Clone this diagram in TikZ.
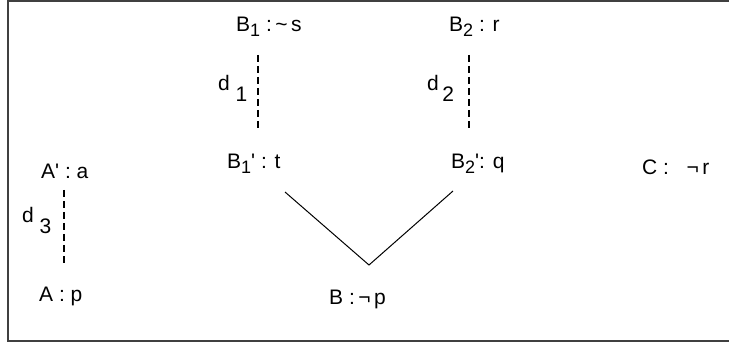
\documentclass[tikz,border=0pt]{standalone}
\usepackage{fontspec}
\setmainfont{Liberation Sans}
\newcommand\lowsub[1]{\raisebox{-5pt}{\fontsize{18}{18}\selectfont #1}}
\newcommand\dsub[1]{\raisebox{-11pt}{#1}}
\newcommand\pr{\textquotesingle}
\begin{document}
\begin{tikzpicture}[x=1pt,y=-1pt,
  lbl/.style={anchor=west,inner sep=0pt,font=\fontsize{21}{21}\selectfont},
  dline/.style={line width=1.3pt,dash pattern=on 7pt off 4pt},
  sline/.style={line width=1pt},
  frame/.style={line width=1.6pt,draw=black!75}]
\useasboundingbox (0,0) rectangle (729,342);
\draw[frame] (729,0.8) -- (8,0.8) -- (8,340.8) -- (729,340.8);
% nodes
\node[lbl] (b1) at (236,27) {B\lowsub{1} :\,\textasciitilde\,s};
\node[lbl] (b2) at (449,27) {B\lowsub{2} : r};
\node[lbl] (b1p) at (227,164) {B\lowsub{1}\pr\ : t};
\node[lbl] (b2p) at (451,164) {B\lowsub{2}\pr: q};
\node[lbl] (ap) at (41,171) {A\pr\ : a};
\node[lbl] (a) at (39,296) {A : p};
\node[lbl] (c) at (642,167) {C :\ \ \ ¬\,r};
\node[lbl] (b) at (329,299) {B :\,¬\,p};
\node[lbl] (d1) at (218,88) {d\ \dsub{1}};
\node[lbl] (d2) at (427,88) {d\,\dsub{2}};
\node[lbl] (d3) at (22,220) {d\ \dsub{3}};
% connector endpoints
\coordinate (d1t) at (258,55);
\coordinate (d1b) at (258,128);
\coordinate (d2t) at (469,55);
\coordinate (d2b) at (469,128);
\coordinate (d3t) at (64,190);
\coordinate (d3b) at (64,263);
\coordinate (vl) at (285,192);
\coordinate (vm) at (369,265);
\coordinate (vr) at (453,191);
\draw[dline] (d1t) -- (d1b);
\draw[dline] (d2t) -- (d2b);
\draw[dline] (d3t) -- (d3b);
\draw[sline] (vl) -- (vm) -- (vr);
\end{tikzpicture}
\end{document}
